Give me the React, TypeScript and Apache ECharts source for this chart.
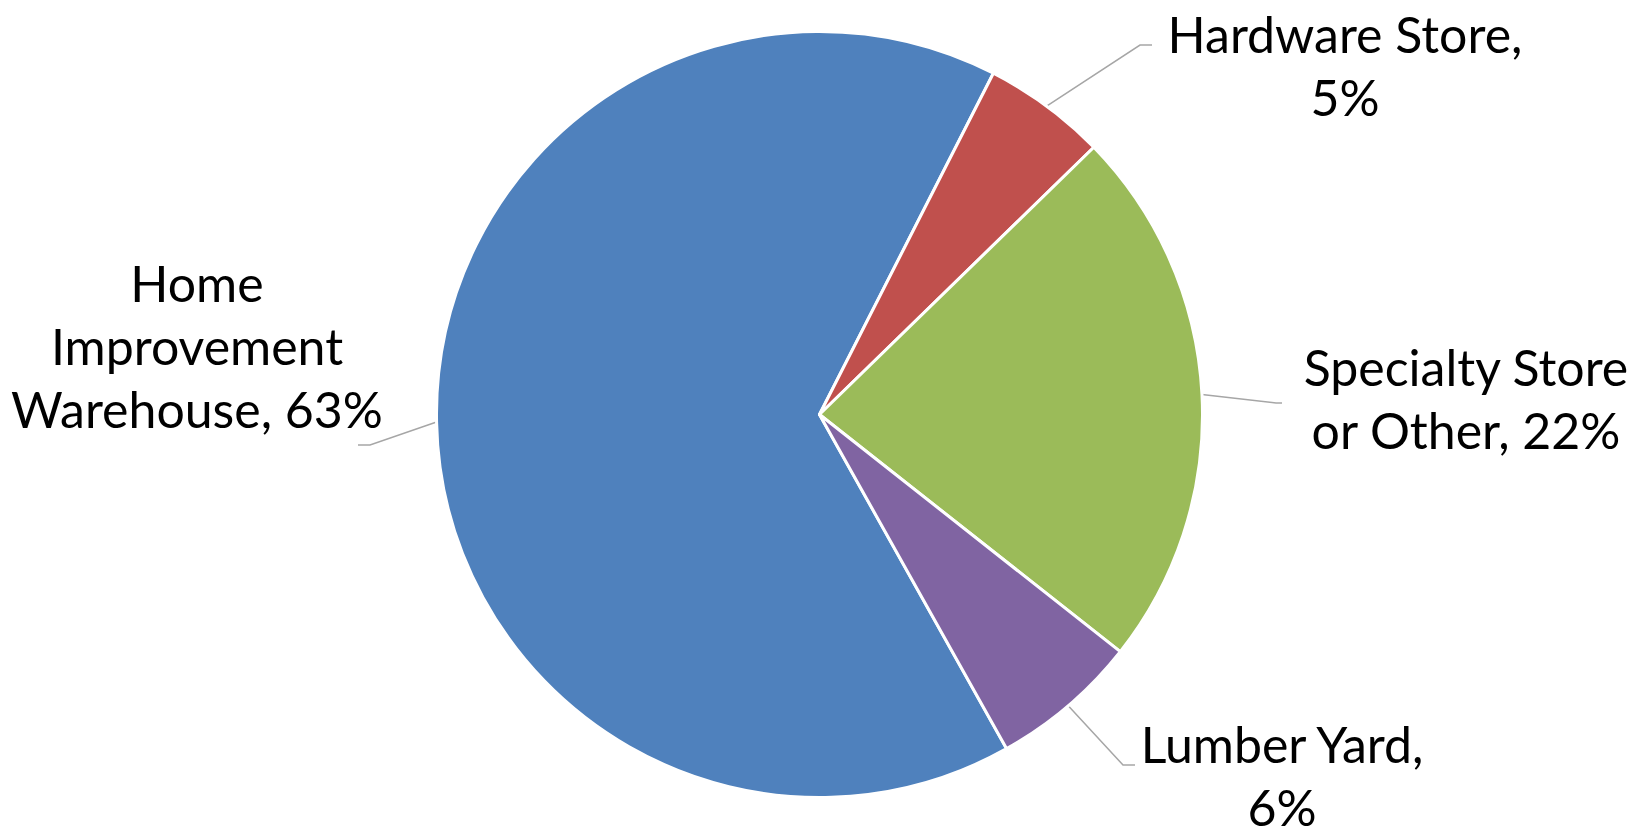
import React, { useEffect, useRef } from "react";
import * as echarts from "echarts";

const categories = [
  "Home Improvement Warehouse",
  "Hardware Store",
  "Specialty Store or Other",
  "Lumber Yard",
];
const labelLines = [
  ["Home", "Improvement", "Warehouse"],
  ["Hardware Store,"],
  ["Specialty Store", "or Other"],
  ["Lumber Yard,"],
];
const values = [63, 5, 22, 6];
const colors = ["#4F81BD", "#C0504D", "#9BBB59", "#8064A2"];

// label layout (page pixels): anchor = centre of the text block
const labelAnchors = [
  [197, 346],
  [1345, 65],
  [1466, 398],
  [1282, 775],
];
// leader line elbow and end offsets relative to anchor
const lineElbows = [
  [173, 99],
  [-205, -20],
  [-190, 5],
  [-159, -10],
];
const lineEnds = [
  [161, 99],
  [-193, -20],
  [-184, 5],
  [-147, -10],
];

export default function App() {
  const ref = useRef<HTMLDivElement>(null);
  useEffect(() => {
    if (!ref.current) return;
    const chart = echarts.init(ref.current, undefined, { renderer: "svg" });
    chart.setOption({
      animation: false,
      backgroundColor: "#FFFFFF",
      series: [
        {
          type: "pie",
          center: [819.5, 414.5],
          radius: 383,
          startAngle: 299.25,
          clockwise: true,
          avoidLabelOverlap: false,
          silent: true,
          data: categories.map((name, i) => ({
            name,
            value: values[i],
            itemStyle: { color: colors[i] },
          })),
          itemStyle: { borderColor: "#FFFFFF", borderWidth: 3 },
          label: {
            show: true,
            position: "outside",
            fontFamily: "Lato, 'Open Sans', sans-serif",
            fontSize: 50,
            lineHeight: 63,
            color: "#000000",
            align: "center",
            formatter: (p: any) => {
              const lines = labelLines[p.dataIndex].slice();
              const last = lines.length - 1;
              if (lines[last].endsWith(",")) {
                lines.push(p.value + "%");
              } else {
                lines[last] = lines[last] + ", " + p.value + "%";
              }
              return lines.join("\n");
            },
          },
          labelLine: {
            show: true,
            length: 10,
            length2: 10,
            lineStyle: { color: "#A6A6A6", width: 1.5 },
          },
          labelLayout: (params: any) => {
            const i = params.dataIndex;
            const [ax, ay] = labelAnchors[i];
            const start = params.labelLinePoints
              ? params.labelLinePoints[0]
              : [ax, ay];
            return {
              x: ax,
              y: ay,
              align: "center",
              verticalAlign: "middle",
              labelLinePoints: [
                start,
                [ax + lineElbows[i][0], ay + lineElbows[i][1]],
                [ax + lineEnds[i][0], ay + lineEnds[i][1]],
              ],
            };
          },
          emphasis: { disabled: true },
        },
      ],
    });
    return () => chart.dispose();
  }, []);
  return (
    <div
      ref={ref}
      style={{ position: "fixed", left: 0, top: 0, width: 1644, height: 836 }}
    />
  );
}
